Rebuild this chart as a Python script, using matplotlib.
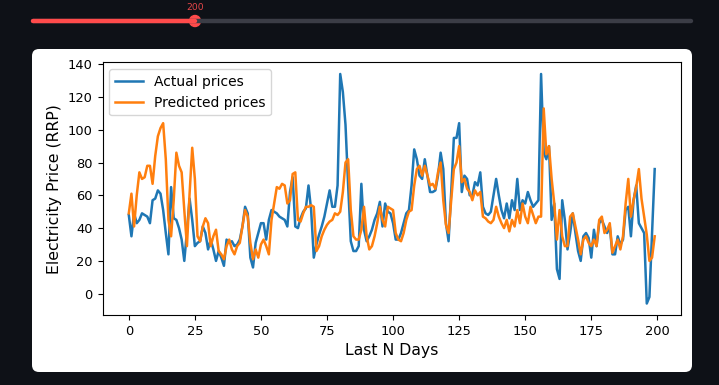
import matplotlib
matplotlib.use("Agg")
import matplotlib.pyplot as plt
from matplotlib.patches import FancyBboxPatch, Circle
import numpy as np

# ---------------- data ----------------
days = list(range(200))

actual = [
    48, 35, 49, 43, 45, 49, 48, 47, 43, 57,
    58, 63, 61, 51, 37, 24, 65, 46, 45, 40,
    33, 20, 38, 58, 45, 29, 31, 32, 41, 37,
    27, 33, 27, 20, 26, 22, 17, 33, 31, 32,
    29, 30, 33, 41, 53, 49, 22, 16, 31, 37,
    43, 43, 33, 45, 51, 50, 49, 47, 46, 45,
    41, 62, 71, 41, 40, 46, 50, 52, 66, 51,
    22, 30, 36, 41, 47, 55, 63, 53, 53, 66,
    134, 123, 103, 66, 32, 26, 26, 29, 67, 39,
    32, 35, 39, 45, 49, 56, 41, 55, 50, 49,
    43, 33, 33, 37, 43, 49, 51, 66, 88, 82,
    72, 70, 82, 72, 62, 62, 63, 72, 86, 76,
    43, 32, 62, 95, 95, 104, 62, 72, 70, 60,
    60, 68, 66, 74, 53, 49, 48, 50, 60, 70,
    60, 51, 46, 55, 46, 57, 51, 70, 51, 57,
    55, 62, 57, 53, 55, 57, 134, 86, 82, 90,
    45, 55, 15, 9, 57, 45, 27, 37, 49, 37,
    26, 20, 35, 37, 34, 22, 39, 29, 43, 45,
    41, 37, 41, 24, 24, 35, 30, 33, 51, 53,
    35, 57, 66, 43, 40, 37, -6, -2, 37, 76,
]

predicted = [
    49, 61, 41, 60, 74, 70, 71, 78, 78, 67,
    84, 96, 101, 104, 82, 45, 35, 57, 86, 78,
    74, 51, 29, 61, 89, 70, 35, 32, 41, 46,
    43, 29, 35, 39, 26, 24, 21, 29, 33, 27,
    24, 29, 31, 41, 51, 47, 31, 21, 27, 22,
    30, 33, 29, 24, 45, 55, 65, 64, 67, 66,
    55, 57, 73, 74, 45, 44, 49, 53, 53, 54,
    53, 26, 29, 35, 39, 42, 44, 45, 49, 48,
    50, 62, 80, 82, 51, 35, 33, 33, 39, 53,
    35, 27, 29, 35, 43, 53, 45, 41, 53, 52,
    51, 37, 33, 32, 37, 45, 50, 51, 66, 76,
    78, 72, 78, 72, 66, 67, 64, 74, 80, 57,
    42, 37, 57, 76, 80, 90, 68, 70, 64, 62,
    57, 63, 60, 62, 47, 46, 44, 43, 45, 53,
    47, 43, 40, 45, 38, 45, 41, 51, 43, 55,
    47, 43, 53, 48, 43, 47, 47, 113, 85, 90,
    70, 55, 33, 51, 35, 29, 29, 47, 49, 41,
    33, 24, 33, 35, 31, 29, 33, 29, 45, 47,
    37, 39, 43, 25, 29, 33, 27, 35, 55, 70,
    47, 57, 65, 76, 58, 47, 36, 20, 22, 35,
]

x_ticks = [0, 25, 50, 75, 100, 125, 150, 175, 200]
y_ticks = [0, 20, 40, 60, 80, 100, 120, 140]
slider_value = 200

# ---------------- figure ----------------
W, H = 719, 385
fig = plt.figure(figsize=(W / 100, H / 100), dpi=100)
fig.patch.set_facecolor("#0e1117")

# background layer in pixel coordinates (y downwards)
bg = fig.add_axes([0, 0, 1, 1], zorder=0)
bg.set_xlim(0, W)
bg.set_ylim(H, 0)
bg.axis("off")

# white card
card = FancyBboxPatch((32, 49), 660, 323,
                      boxstyle="round,pad=0,rounding_size=7",
                      facecolor="white", edgecolor="none")
bg.add_patch(card)

# slider
track_y = 21
bg.plot([33, 691], [track_y, track_y], color="#3b3d46", lw=3.2,
        solid_capstyle="round")
bg.plot([33, 195], [track_y, track_y], color="#ff4b4b", lw=3.2,
        solid_capstyle="round")
bg.add_patch(Circle((195, track_y), 5.5, color="#ff4b4b"))
bg.text(195, 8, str(slider_value), color="#e8474a", fontsize=6.6,
        ha="center", va="center")

# main chart axes
left, right, top, bottom = 102.5, 681, 62.5, 315
ax = fig.add_axes([left / W, (H - bottom) / H, (right - left) / W,
                   (bottom - top) / H], zorder=1)
ax.plot(days, actual, color="#1f77b4", lw=1.8, label="Actual prices")
ax.plot(days, predicted, color="#ff7f0e", lw=1.8, label="Predicted prices")
ax.set_xticks(x_ticks)
ax.set_yticks(y_ticks)
ax.tick_params(labelsize=9.4)
ax.set_xlabel("Last N Days", fontsize=11.3)
ax.set_ylabel("Electricity Price (RRP)", fontsize=11.3)
ax.legend(loc="upper left", fontsize=10)

fig.savefig("out.png", dpi=100, facecolor=fig.get_facecolor())
